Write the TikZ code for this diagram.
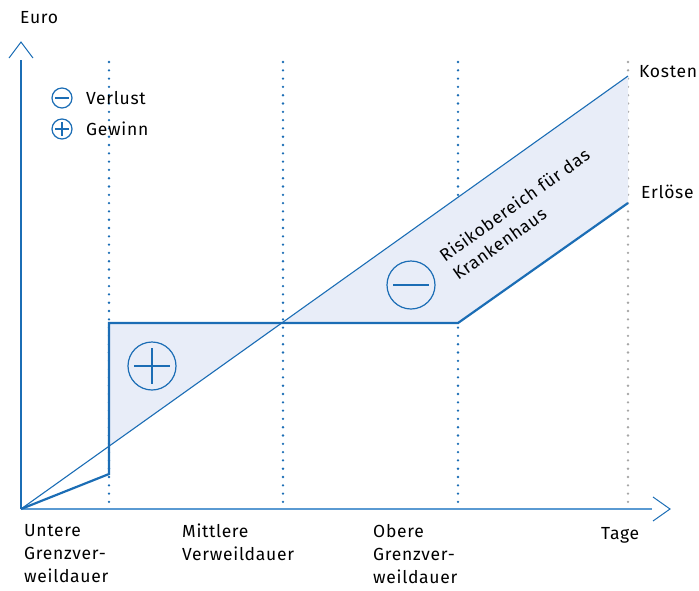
\documentclass[tikz,border=0pt]{standalone}
\usepackage{fontspec}
\setmainfont{Fira Sans}[LetterSpace=4]
\begin{document}
\begin{tikzpicture}[x=1pt,y=-1pt,
  lab/.style={font=\fontsize{17.5}{23}\selectfont, inner sep=0pt, text=black},
  guide/.style={draw=curveblue, line width=2.6pt, line cap=round, dash pattern=on 0pt off 8.3pt},
  guidegray/.style={guide, draw=black!35},
  chev/.style={draw=curveblue, line width=1pt},
  sign/.style={draw=curveblue, line width=2.4pt}]
\definecolor{curveblue}{HTML}{1B6DB5}
\definecolor{axisblue}{HTML}{5A9AD2}
\definecolor{zone}{HTML}{E8EDF8}
\useasboundingbox (0,0) rectangle (699,590);

% key points of the graph
\coordinate (O) at (21,509);
\coordinate (k1) at (109,446.3);
\coordinate (e1) at (109,474);
\coordinate (e2) at (109,323);
\coordinate (X) at (283,323);
\coordinate (e3) at (458,323);
\coordinate (eEnd) at (628,203);
\coordinate (kEnd) at (628,76);

% dotted day markers
\draw[guide] (109,62) -- (109,505);
\draw[guide] (283,62) -- (283,505);
\draw[guide] (458,62) -- (458,505);
\draw[guidegray] (628,62) -- (628,505);

% gain and loss zones
\fill[zone] (k1) -- (e2) -- (X) -- cycle;
\fill[zone] (X) -- (e3) -- (eEnd) -- (kEnd) -- cycle;

% axes
\draw[axisblue, line width=1.8pt] (O) -- (652,509);
\draw[chev] (653,497) -- (670,509) -- (653,521);
\draw[curveblue, line width=1.3pt] (O) -- (21,60);
\draw[chev] (9,58) -- (21,42) -- (33,58);

% cost and revenue curves
\draw[curveblue, line width=1.1pt] (O) -- (kEnd);
\draw[curveblue, line width=2.2pt, line join=miter] (O) -- (e1) -- (e2) -- (e3) -- (eEnd);

% zone markers
\node[circle, draw=curveblue, line width=1.2pt, minimum size=48pt, inner sep=0pt] (plus) at (152,366) {};
\draw[sign] ([xshift=-18pt]plus.center) -- ([xshift=18pt]plus.center);
\draw[sign] ([yshift=18pt]plus.center) -- ([yshift=-18pt]plus.center);
\node[circle, draw=curveblue, line width=1.2pt, minimum size=48pt, inner sep=0pt] (minus) at (411,285) {};
\draw[sign] ([xshift=-18pt]minus.center) -- ([xshift=18pt]minus.center);

% legend
\node[circle, draw=curveblue, line width=1.2pt, minimum size=20pt, inner sep=0pt] (lm) at (62,98) {};
\draw[curveblue, line width=1.8pt] ([xshift=-7pt]lm.center) -- ([xshift=7pt]lm.center);
\node[circle, draw=curveblue, line width=1.2pt, minimum size=20pt, inner sep=0pt] (lp) at (62,129) {};
\draw[curveblue, line width=1.8pt] ([xshift=-7pt]lp.center) -- ([xshift=7pt]lp.center);
\draw[curveblue, line width=1.8pt] ([yshift=7pt]lp.center) -- ([yshift=-7pt]lp.center);
\node[lab, anchor=west] (tv) at (86,98) {Verlust};
\node[lab, anchor=west] (tg) at (86,129) {Gewinn};

% labels
\node[lab, anchor=west] (euro) at (20,18) {Euro};
\node[lab, anchor=west] (kosten) at (639,72) {Kosten};
\node[lab, anchor=west] (erloese) at (641,192) {Erlöse};
\node[lab, anchor=west] (tage) at (601,535) {Tage};
\node[lab, rotate=35.5, align=left] (risk) at (521,214) {Risikobereich für das\\Krankenhaus};

\node[lab, anchor=north west, align=left] (ugv) at (24,524) {Untere\\Grenzver-\\weildauer};
\node[lab, anchor=north west, align=left] (mvd) at (182,524) {Mittlere\\Verweildauer};
\node[lab, anchor=north west, align=left] (ogv) at (373,524) {Obere\\Grenzver-\\weildauer};
\end{tikzpicture}
\end{document}
